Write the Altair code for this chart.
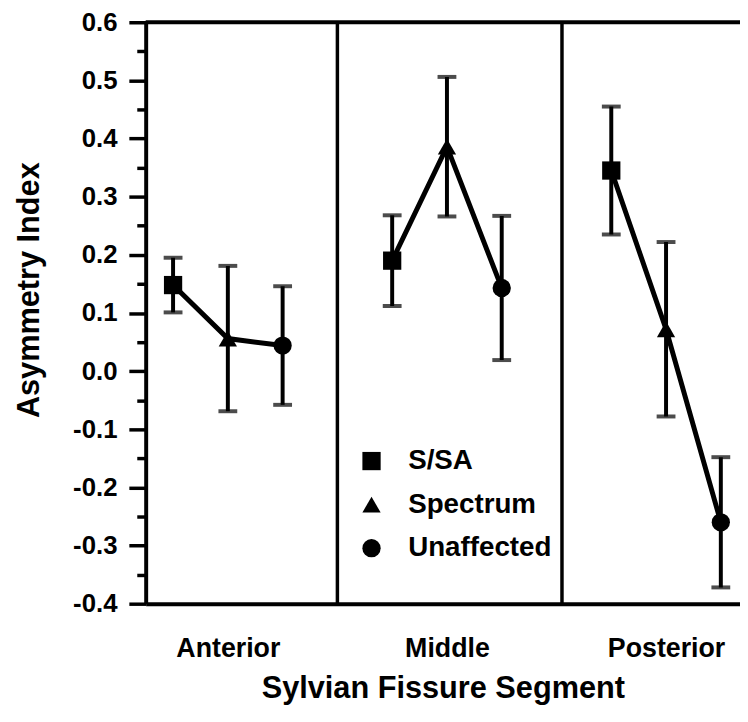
import altair as alt
import pandas as pd

# ---- data ----
segments = ["Anterior", "Middle", "Posterior"]
groups = ["S/SA", "Spectrum", "Unaffected"]
means = {
    "S/SA":       [0.148, 0.190, 0.345],
    "Spectrum":   [0.056, 0.386, 0.072],
    "Unaffected": [0.044, 0.143, -0.260],
}
errs = {
    "S/SA":       [0.047, 0.078, 0.110],
    "Spectrum":   [0.125, 0.120, 0.150],
    "Unaffected": [0.102, 0.124, 0.112],
}
y_ticks = [round(-0.4 + 0.05 * i, 2) for i in range(21)]
separators = [4.0, 8.1]
seg_centers = [2, 6, 10]

rows = []
for si, seg in enumerate(segments):
    for gi, grp in enumerate(groups):
        m = means[grp][si]
        e = errs[grp][si]
        rows.append({"seg": seg, "grp": grp, "x": si * 4 + gi + 1,
                     "mean": m, "lo": m - e, "hi": m + e})
df = pd.DataFrame(rows)

FONT = "Liberation Sans"
xscale = alt.Scale(domain=[0.5, 11.35], nice=False, zero=False)
yscale = alt.Scale(domain=[-0.4, 0.6], nice=False, zero=False)

label_expr = " : ".join(
    f"datum.value == {c} ? '{s}'" for c, s in zip(seg_centers, segments)
) + " : ''"

xaxis = alt.Axis(values=seg_centers, labelExpr=label_expr, ticks=False, grid=False,
                 domainWidth=4, domainColor="black", labelFont=FONT, labelFontSize=27,
                 labelFontWeight="bold", labelColor="black", labelPadding=32,
                 labelAlign="center",
                 titleFont=FONT, titleFontSize=31, titleFontWeight="bold",
                 titleColor="black", titlePadding=13)

major_test = "abs(datum.value*10 - round(datum.value*10)) < 0.001"
yaxis = alt.Axis(values=y_ticks,
                 labelExpr=f"{major_test} ? replace(format(datum.value, '.1f'), '\u2212', '-') : ''",
                 grid=False, domainWidth=4, domainColor="black",
                 tickColor="black", tickWidth=3.5,
                 tickSize={"condition": {"test": major_test, "value": 17}, "value": 9},
                 labelFont=FONT, labelFontSize=26, labelFontWeight="bold",
                 labelColor="black", labelPadding=12,
                 titleFont=FONT, titleFontSize=31, titleFontWeight="bold",
                 titleColor="black", titleAngle=270, titleBaseline="alphabetic",
                 titleX=-108, titleY=270)

def X(field):
    return alt.X(f"{field}:Q", scale=xscale, axis=xaxis, title="Sylvian Fissure Segment")

def Y(field):
    return alt.Y(f"{field}:Q", scale=yscale, axis=yaxis, title="Asymmetry Index")

base = alt.Chart(df)

lines = base.mark_line(color="black", strokeWidth=5).encode(
    x=X("x"), y=Y("mean"), detail="seg:N")
bars = base.mark_rule(color="black", strokeWidth=4).encode(
    x=X("x"), y=Y("lo"), y2="hi:Q")
cap_hi = base.mark_tick(color="black", orient="horizontal", size=19, thickness=4).encode(
    x=X("x"), y=Y("hi"))
cap_lo = base.mark_tick(color="black", orient="horizontal", size=19, thickness=4).encode(
    x=X("x"), y=Y("lo"))
points = base.mark_point(filled=True, opacity=1, color="black", size=340).encode(
    x=X("x"), y=Y("mean"),
    shape=alt.Shape("grp:N",
                    scale=alt.Scale(domain=groups, range=["square", "triangle-up", "circle"]),
                    legend=alt.Legend(title=None, orient="none", legendX=214, legendY=429,
                                      direction="vertical", padding=0,
                                      symbolSize=340, symbolFillColor="black",
                                      symbolStrokeColor="black", symbolStrokeWidth=0,
                                      labelFont=FONT, labelFontSize=28,
                                      labelFontWeight="bold", labelColor="black",
                                      labelOffset=23, rowPadding=16)))

sep = alt.Chart(pd.DataFrame({"x": separators})).mark_rule(
    color="black", strokeWidth=3.5).encode(x=X("x"))
top = alt.Chart(pd.DataFrame({"mean": [0.6]})).mark_rule(
    color="black", strokeWidth=4).encode(y=Y("mean"))

chart = alt.layer(sep, top, lines, bars, cap_hi, cap_lo, points).properties(
    width=600, height=587,
    autosize=alt.AutoSizeParams(type="none"),
    padding={"left": 139, "top": 11, "right": 0, "bottom": 112},
).configure_view(stroke=None).configure(background="white")

chart.save("out.html", embed_options={"renderer": "svg", "actions": False})
